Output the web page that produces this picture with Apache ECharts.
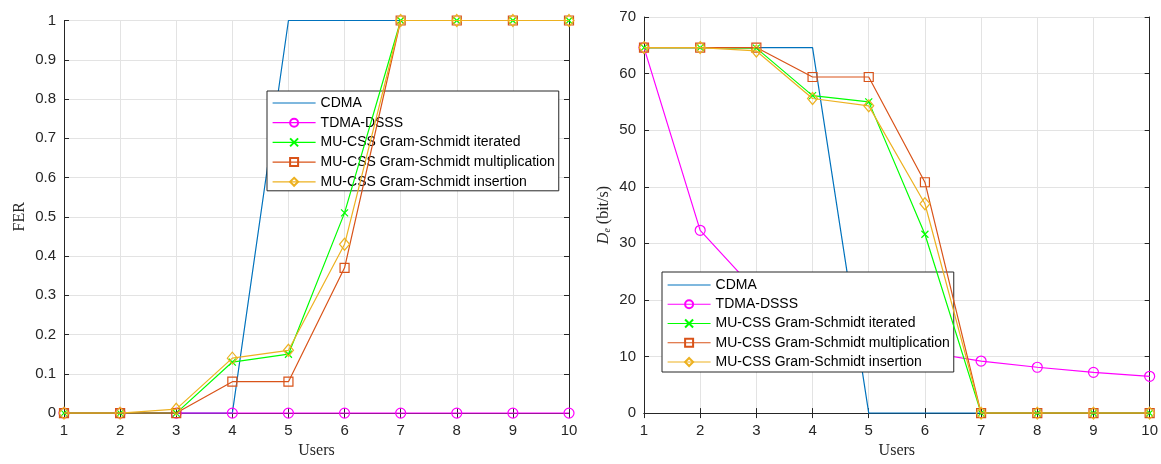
<!DOCTYPE html>
<html>
<head>
<meta charset="utf-8">
<script src="https://cdn.jsdelivr.net/npm/echarts@6/dist/echarts.min.js"></script>
<style>
  html, body { margin: 0; padding: 0; background: #fff; }
  #main { width: 1161px; height: 464px; }
</style>
</head>
<body>
<div id="main"></div>
<script>
// 数据
const users = [1, 2, 3, 4, 5, 6, 7, 8, 9, 10];
const names = ['CDMA', 'TDMA-DSSS', 'MU-CSS Gram-Schmidt iterated', 'MU-CSS Gram-Schmidt multiplication', 'MU-CSS Gram-Schmidt insertion'];

// 左图：FER
const ferCdma = [0, 0, 0, 0, 1, 1, 1, 1, 1, 1];
const ferTdma = [0, 0, 0, 0, 0, 0, 0, 0, 0, 0];
const ferIter = [0, 0, 0, 0.13, 0.15, 0.51, 1, 1, 1, 1];
const ferMult = [0, 0, 0, 0.08, 0.08, 0.37, 1, 1, 1, 1];
const ferIns = [0, 0, 0.01, 0.14, 0.16, 0.43, 1, 1, 1, 1];

// 右图：De (bit/s)
const deCdma = [64.6, 64.6, 64.6, 64.6, 0, 0, 0, 0, 0, 0];
const deTdma = [64.6, 32.3, 21.5, 16.2, 12.9, 10.8, 9.2, 8.1, 7.2, 6.5];
const deIter = [64.6, 64.6, 64.5, 56.1, 55.0, 31.6, 0, 0, 0, 0];
const deMult = [64.6, 64.6, 64.6, 59.4, 59.4, 40.8, 0, 0, 0, 0];
const deIns = [64.6, 64.6, 64.0, 55.6, 54.3, 37.0, 0, 0, 0, 0];

const colors = ['#0072BD', '#FF00FF', '#00FF00', '#D95319', '#EDB120'];
const symbols = ['none', 'circle', 'path://M0,0L10,10M10,0L0,10', 'rect', 'diamond'];
const symbolSizes = [0, 10, 7, 9, [10, 12]];

const axisColor = '#262626';
const gridColor = '#e3e3e3';
const sans = 'Liberation Sans, Arial, sans-serif';
const serif = 'Liberation Serif, DejaVu Serif, serif';

const chart = echarts.init(document.getElementById('main'));

function pairs(arr) {
    return users.map((u, i) => [u, arr[i]]);
}

function makeSeries(dataSets, gi) {
    return dataSets.map((d, k) => ({
        name: names[k],
        type: 'line',
        xAxisIndex: gi * 2,
        yAxisIndex: gi * 2,
        data: pairs(d),
        symbol: symbols[k],
        symbolSize: symbolSizes[k],
        showSymbol: k !== 0,
        lineStyle: { color: colors[k], width: 1.2 },
        itemStyle: { color: 'transparent', borderColor: colors[k], borderWidth: 1.2 },
        emphasis: { disabled: true },
        animation: false,
        z: 2 + k
    }));
}

function mainX(gi, name) {
    return {
        type: 'value', gridIndex: gi, min: 1, max: 10, interval: 1,
        name: name, nameLocation: 'middle', nameGap: 27,
        nameTextStyle: { fontFamily: serif, fontSize: 16, color: axisColor },
        axisLine: { lineStyle: { color: axisColor } },
        axisTick: { inside: true, length: 5, lineStyle: { color: axisColor } },
        axisLabel: { color: axisColor, fontFamily: sans, fontSize: 15, margin: 10 },
        splitLine: { show: true, lineStyle: { color: gridColor } }
    };
}
function topX(gi) {
    return {
        type: 'value', gridIndex: gi, min: 1, max: 10, interval: 1, position: 'top',
        axisLine: { lineStyle: { color: axisColor } },
        axisTick: { inside: true, length: 5, lineStyle: { color: axisColor } },
        axisLabel: { show: false }, splitLine: { show: false }
    };
}
function mainY(gi, max, interval, name, gap, rich) {
    return {
        type: 'value', gridIndex: gi, min: 0, max: max, interval: interval,
        name: name, nameLocation: 'middle', nameGap: gap,
        nameTextStyle: { fontFamily: serif, fontSize: 16, color: axisColor, rich: rich },
        axisLine: { show: true, lineStyle: { color: axisColor } },
        axisTick: { show: true, inside: true, length: 5, lineStyle: { color: axisColor } },
        axisLabel: { color: axisColor, fontFamily: sans, fontSize: 15, margin: 8 },
        splitLine: { show: true, lineStyle: { color: gridColor } }
    };
}
function rightY(gi, max, interval) {
    return {
        type: 'value', gridIndex: gi, min: 0, max: max, interval: interval, position: 'right',
        axisLine: { show: true, lineStyle: { color: axisColor } },
        axisTick: { show: true, inside: true, length: 5, lineStyle: { color: axisColor } },
        axisLabel: { show: false }, splitLine: { show: false }
    };
}

function makeLegend(left, top, padding, gap) {
    return {
        orient: 'vertical', left: left, top: top,
        data: names.map((n, k) => k === 0
            ? { name: n, itemStyle: { color: 'transparent', borderWidth: 0, opacity: 0 } }
            : { name: n }),
        itemWidth: 43, itemHeight: 10, itemGap: gap,
        padding: padding,
        backgroundColor: '#fff',
        borderColor: axisColor, borderWidth: 1, borderRadius: 0,
        selectedMode: false,
        lineStyle: { width: 1.2 },
        textStyle: { fontFamily: sans, fontSize: 14, color: '#000', lineHeight: 14 }
    };
}

const option = {
    backgroundColor: '#fff',
    animation: false,
    grid: [
        { left: 64, right: 592, top: 20.5, bottom: 43 },
        { left: 644, right: 11, top: 17, bottom: 45.5 }
    ],
    xAxis: [mainX(0, 'Users'), topX(0), mainX(1, 'Users'), topX(1)],
    yAxis: [
        mainY(0, 1, 0.1, 'FER', 36),
        rightY(0, 1, 0.1),
        mainY(1, 70, 10, '{d|D}{s|e} (bit/s)', 32, {
            d: { fontFamily: serif, fontStyle: 'italic', fontSize: 16, color: axisColor },
            s: { fontFamily: serif, fontStyle: 'italic', fontSize: 10, color: axisColor, padding: [7, 0, 0, 0] }
        }),
        rightY(1, 70, 10)
    ],
    legend: [
        makeLegend(267, 91, [5, 4, 2, 5], 5.7),
        makeLegend(662, 272, [6, 4, 3, 5], 5.25)
    ],
    series: makeSeries([ferCdma, ferTdma, ferIter, ferMult, ferIns], 0)
        .concat(makeSeries([deCdma, deTdma, deIter, deMult, deIns], 1))
};

chart.setOption(option);

window.addEventListener('resize', function () {
    chart.resize();
});
</script>
</body>
</html>
